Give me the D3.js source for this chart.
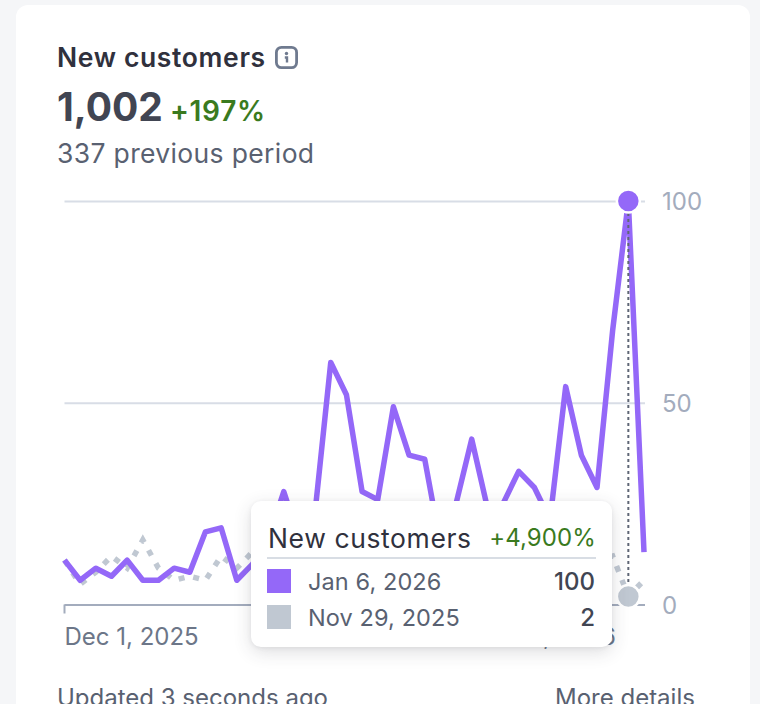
<!DOCTYPE html>
<html>
<head>
<meta charset="utf-8">
<style>
  html, body { margin: 0; height: 100%; overflow: hidden; background: #f5f6f8; }
  body { font-family: Inter, "Noto Sans", sans-serif; color: #30313d; }
  #card { position: absolute; left: 16px; top: 5px; width: 734px; height: 760px; background: #fff; border-radius: 12px; }
  .txt { position: absolute; white-space: nowrap; line-height: 1; }
  #chart { position: absolute; left: 0; top: 0; }
  #tooltip { position: absolute; left: 251px; top: 501px; width: 361px; height: 146px; background: #fff; border-radius: 10px;
    box-shadow: 0 5px 18px rgba(48, 49, 61, 0.16), 0 1px 4px rgba(48, 49, 61, 0.08); }
  #divider { position: absolute; left: 16px; top: 56px; width: 329px; height: 2px; background: #d8dde4; }
  .swatch { position: absolute; left: 16px; width: 24px; height: 24px; }
</style>
</head>
<body>
<div id="card"></div>
<svg id="chart" width="760" height="704"></svg>
<div class="txt" style="left:57px;top:44px;font-size:26.5px;font-weight:600;letter-spacing:0.65px;">New customers</div>
<svg style="position:absolute;left:274px;top:45px" width="25" height="25">
  <rect x="2.4" y="2.4" width="20.2" height="20.2" rx="5" fill="none" stroke="#6f7a8f" stroke-width="2.8"/>
  <circle cx="12.5" cy="8.5" r="1.7" fill="#6f7a8f"/>
  <path d="M10.8 12.5h2.2v5" fill="none" stroke="#6f7a8f" stroke-width="2.4"/>
</svg>
<div class="txt" style="left:57px;top:87px;font-size:39px;font-weight:700;color:#414552;">1,002</div>
<div class="txt" style="left:170px;top:97px;font-size:28px;font-weight:600;letter-spacing:0.7px;color:#3a7a1e;">+197%</div>
<div class="txt" style="left:57px;top:140px;font-size:26.5px;letter-spacing:0.35px;color:#596171;">337 previous period</div>
<div id="tooltip">
  <div class="txt" style="left:17px;top:24px;font-size:26.5px;letter-spacing:0.6px;color:#30313d;">New customers</div>
  <div class="txt" style="right:16px;top:25px;font-size:24px;letter-spacing:0.1px;color:#3a7a1e;">+4,900%</div>
  <div id="divider"></div>
  <div class="swatch" style="top:68px;background:#9468f8;"></div>
  <div class="swatch" style="top:104px;background:#c0c8d2;"></div>
  <div class="txt" style="left:57px;top:69px;font-size:23.5px;letter-spacing:0.1px;color:#596171;">Jan 6, 2026</div>
  <div class="txt" style="left:57px;top:105px;font-size:23.5px;letter-spacing:0.1px;color:#596171;">Nov 29, 2025</div>
  <div class="txt" style="right:17px;top:69px;font-size:24px;font-weight:500;color:#414552;">100</div>
  <div class="txt" style="right:17px;top:105px;font-size:24px;font-weight:500;color:#414552;">2</div>
</div>
<div class="txt" style="left:57px;top:686px;font-size:24px;color:#596171;">Updated 3 seconds ago</div>
<div class="txt" style="left:555px;top:686px;font-size:24px;color:#596171;">More details</div>

<script src="https://d3js.org/d3.v7.min.js"></script>
<script>
// current period starts Dec 1, 2025, one value per day
const days = ['Dec 1','Dec 2','Dec 3','Dec 4','Dec 5','Dec 6','Dec 7','Dec 8','Dec 9','Dec 10',
  'Dec 11','Dec 12','Dec 13','Dec 14','Dec 15','Dec 16','Dec 17','Dec 18','Dec 19','Dec 20',
  'Dec 21','Dec 22','Dec 23','Dec 24','Dec 25','Dec 26','Dec 27','Dec 28','Dec 29','Dec 30',
  'Dec 31','Jan 1','Jan 2','Jan 3','Jan 4','Jan 5','Jan 6','Jan 7'];
const currentValues = [11, 6, 9, 7, 11, 6, 6, 9, 8, 18,
  19, 6, 10, 16, 28, 16, 23, 60, 52, 28,
  26, 49, 37, 36, 15, 25, 41, 24, 25, 33,
  29, 21, 54, 37, 29, 68, 100, 13];
// most of this one sits behind the tooltip, those values are rough
const previousValues = [11, 5, 8, 12, 9, 16, 9, 6, 7, 6,
  12, 9, 13, 10, 8, 7, 11, 9, 6, 8,
  10, 7, 9, 12, 8, 6, 10, 9, 7, 11,
  8, 10, 9, 8, 11, 12, 2, 6];
const yTicks = [0, 50, 100];
const xTickLabels = ['Dec 1, 2025', 'Jan 6, 2026'];
const hoverDay = 'Jan 6';

const purple = '#9468f8';
const gray = '#c0c8d2';

const x = d3.scalePoint().domain(days).range([64.5, 644]);
const y = d3.scaleLinear().domain([0, 100]).range([604.5, 201]);
const svg = d3.select('#chart');

// horizontal grid + labels on the right
const yAxis = d3.axisRight(y).tickValues(yTicks).tickSize(580.5).tickPadding(17);
const yG = svg.append('g').attr('transform', 'translate(64.5,0)').call(yAxis);
yG.select('.domain').remove();
yG.selectAll('line').attr('stroke', (d) => d === 0 ? '#a3acbd' : '#d8dde6').attr('stroke-width', 2);
yG.selectAll('text')
  .attr('fill', '#a3acbd')
  .attr('font-family', 'Inter, sans-serif')
  .attr('font-size', 24)
  .attr('dy', '0.36em');

// bottom left tick and date labels
svg.append('line')
  .attr('x1', x(days[0])).attr('x2', x(days[0]))
  .attr('y1', y(0)).attr('y2', y(0) + 9)
  .attr('stroke', '#a3acbd').attr('stroke-width', 2);
svg.append('text')
  .attr('x', x(days[0]))
  .attr('y', 645)
  .attr('fill', '#6c7688')
  .attr('font-family', 'Inter, sans-serif')
  .attr('font-size', 24)
  .text(xTickLabels[0]);
svg.append('text')
  .attr('x', 616)
  .attr('y', 645)
  .attr('text-anchor', 'end')
  .attr('fill', '#6c7688')
  .attr('font-family', 'Inter, sans-serif')
  .attr('font-size', 24)
  .text(xTickLabels[1]);

const line = d3.line().x((d, i) => x(days[i])).y((d) => y(d));

svg.append('path')
  .datum(previousValues)
  .attr('fill', 'none')
  .attr('stroke', gray)
  .attr('stroke-width', 5.5)
  .attr('stroke-dasharray', '6 9')
  .attr('d', line);

svg.append('path')
  .datum(currentValues)
  .attr('fill', 'none')
  .attr('stroke', purple)
  .attr('stroke-width', 5.5)
  .attr('stroke-linejoin', 'round')
  .attr('stroke-linecap', 'butt')
  .attr('d', line);

// hover marker
const hoverIndex = days.indexOf(hoverDay);
const hoverX = x(hoverDay);
svg.append('line')
  .attr('x1', hoverX).attr('x2', hoverX)
  .attr('y1', y(currentValues[hoverIndex]))
  .attr('y2', y(previousValues[hoverIndex]))
  .attr('stroke', '#5f6675')
  .attr('stroke-width', 2)
  .attr('stroke-dasharray', '3 3');

[[currentValues, purple], [previousValues, gray]].forEach(([values, color]) => {
  svg.append('circle')
    .attr('cx', hoverX)
    .attr('cy', y(values[hoverIndex]))
    .attr('r', 11.5)
    .attr('fill', color)
    .attr('stroke', '#fff')
    .attr('stroke-width', 2.5);
});
</script>
</body>
</html>
